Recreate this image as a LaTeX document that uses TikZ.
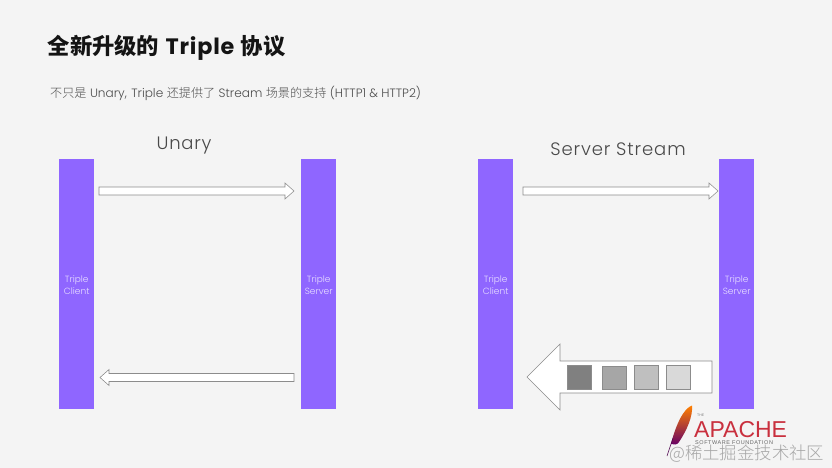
\documentclass[tikz,border=0pt]{standalone}
\usepackage{fontspec}
\setmainfont{Poppins}
\newfontfamily\cjk{Noto Sans CJK SC}
\newfontfamily\cjkl[UprightFont=* Light]{Noto Sans CJK SC}
\newfontfamily\lat{Poppins}
\newfontfamily\latl[UprightFont=* Light]{Poppins}
\newfontfamily\apachefont{Liberation Sans}
\usetikzlibrary{calc}
\definecolor{bgc}{HTML}{F4F4F4}
\definecolor{barc}{HTML}{8F66FF}
\definecolor{apachered}{HTML}{C9303E}
\begin{document}
\begin{tikzpicture}[x=1pt,y=-1pt,
  lane/.style={fill=barc,draw=none,minimum width=35pt,minimum height=250pt,inner sep=0pt,anchor=north west},
  lanetext/.style={text=white!80!barc,font=\latl\fontsize{9}{12}\selectfont,align=center,inner sep=0pt},
  blockarrow/.style={fill=white,draw=black!45,line width=0.55pt,line join=miter},
  sq/.style={minimum width=23.5pt,minimum height=23.5pt,inner sep=0pt,draw=black!45,line width=0.4pt,anchor=north west},
  headline/.style={text=black!70!bgc,font=\latl\fontsize{18}{20}\selectfont,inner sep=0pt}]
\useasboundingbox (0,0) rectangle (832,468);
\fill[bgc] (0,0) rectangle (832,468);
\node[anchor=west,inner sep=0pt,text=black!92] (title) at (47.5,47.5) {\fontsize{22.3}{24}\selectfont\cjk\bfseries 全新升级的\hspace{6.5pt}{\lat\addfontfeature{LetterSpace=3.5}Triple}\hspace{6.5pt}协议};
\node[anchor=west,inner sep=0pt,text=black!70] (sub) at (50,93) {\fontsize{12.1}{14}\selectfont\cjkl 不只是\hspace{3.5pt}{\latl Unary,}\hspace{4.5pt}{\latl Triple}\hspace{3.5pt}还提供了\hspace{3.5pt}{\latl Stream}\hspace{3.5pt}场景的支持\hspace{3.5pt}{\latl (HTTP1 \& HTTP2)}};
\node[headline] (h1) at (184,146) {\addfontfeature{LetterSpace=4}Unary};
\node[headline] (h2) at (618,149.5) {\addfontfeature{LetterSpace=5}Server Stream};
\node[lane] (lc) at (59,159) {};
\node[lane] (ls) at (301,159) {};
\node[lane] (rc) at (478,159) {};
\node[lane] (rs) at (719,159) {};
\foreach \n/\t in {lc/Client,ls/Server,rc/Client,rs/Server}{
  \node[lanetext] at ($(\n.center)+(0,0.5)$) {Triple\\\t};
}
% thin arrows
\draw[blockarrow] (99,187) -- (285,187) -- (285,183) -- (294,191) -- (285,199) -- (285,195) -- (99,195) -- cycle;
\draw[blockarrow] (523,187) -- (709,187) -- (709,183) -- (718,191) -- (709,199) -- (709,195) -- (523,195) -- cycle;
\draw[blockarrow] (294,373.5) -- (109,373.5) -- (109,369.5) -- (100,377.5) -- (109,385.5) -- (109,381.5) -- (294,381.5) -- cycle;
% big arrow
\draw[blockarrow] (712,361) -- (560,361) -- (560,344) -- (527,377) -- (560,410) -- (560,393) -- (712,393) -- cycle;
\node[sq,fill=black!50] (s1) at (567,365) {};
\node[sq,fill=black!35] (s2) at (602,365.5) {};
\node[sq,fill=black!25] (s3) at (634,365) {};
\node[sq,fill=black!15] (s4) at (666,365) {};
% Apache feather
\shade[top color=orange,middle color=apachered,bottom color=violet!80!black]
  (692,405.5) .. controls (684,408) and (676,424) .. (671,444) .. controls (674,445) and (677,445) .. (679,442) .. controls (687,430) and (693,416) .. (692,405.5) -- cycle;
\draw[violet!60!black,line width=0.5pt] (673,438) -- (667,456);
\node[anchor=west,inner sep=0pt,text=apachered] (apache) at (694,430) {\apachefont\fontsize{23}{24}\selectfont APACHE};
\node[anchor=west,inner sep=0pt,text=black!50] (the) at (697,415) {\apachefont\fontsize{3.5}{4}\selectfont THE};
\node[anchor=west,inner sep=0pt,text=black!60] (sf) at (695,443) {\apachefont\fontsize{5.5}{6}\selectfont\addfontfeature{LetterSpace=10}SOFTWARE FOUNDATION};
\node[anchor=west,inner sep=0pt,text=black!35] (wm) at (669,454) {\cjkl\fontsize{17.4}{20}\selectfont @稀土掘金技术社区};
\end{tikzpicture}
\end{document}
